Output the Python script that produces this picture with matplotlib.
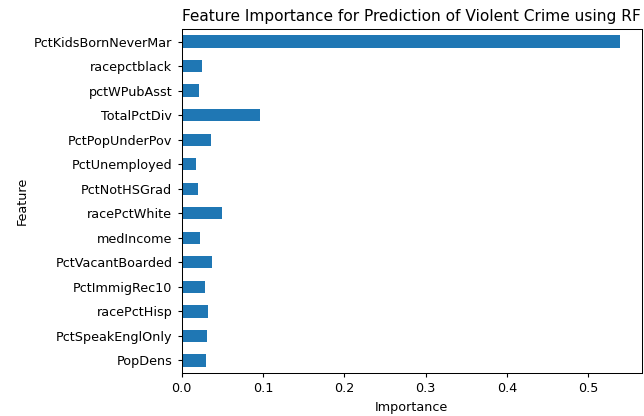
import matplotlib
matplotlib.use("Agg")
import matplotlib.pyplot as plt

# Feature importances from the random forest model (top to bottom)
features = [
    "PctKidsBornNeverMar", "racepctblack", "pctWPubAsst", "TotalPctDiv",
    "PctPopUnderPov", "PctUnemployed", "PctNotHSGrad", "racePctWhite",
    "medIncome", "PctVacantBoarded", "PctImmigRec10", "racePctHisp",
    "PctSpeakEnglOnly", "PopDens",
]
importance = [
    0.539, 0.0246, 0.0213, 0.0964,
    0.0357, 0.0176, 0.0197, 0.0496,
    0.0222, 0.0369, 0.0287, 0.0324,
    0.0312, 0.0299,
]

scale = 0.92
plt.rcParams.update({
    "font.size": 10 * scale,
    "axes.titlesize": 12 * scale,
    "axes.labelsize": 10 * scale,
    "xtick.labelsize": 10 * scale,
    "ytick.labelsize": 10 * scale,
    "xtick.major.size": 3.5 * scale,
    "ytick.major.size": 3.5 * scale,
    "axes.linewidth": 0.8 * scale,
})

fig = plt.figure(figsize=(6.44, 4.16), dpi=100)
ax = fig.add_axes([0.2821, 0.1041, 0.7143, 0.8255])

pos = range(len(features))
ax.barh(pos, importance, height=0.5, color="#1f77b4")
ax.set_yticks(list(pos))
ax.set_yticklabels(features)
ax.set_ylim(len(features) - 0.5, -0.5)
ax.set_xticks([0.0, 0.1, 0.2, 0.3, 0.4, 0.5])

ax.set_xlabel("Importance")
ax.set_ylabel("Feature")
ax.set_title("Feature Importance for Prediction of Violent Crime using RF")

fig.savefig("out.png", dpi=100)
